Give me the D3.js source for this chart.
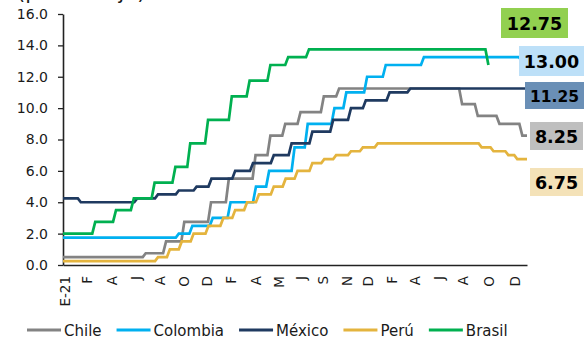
<!DOCTYPE html>
<html>
<head>
<meta charset="utf-8">
<script src="https://cdn.jsdelivr.net/npm/d3@7"></script>
<style>
  html, body { margin: 0; padding: 0; background: #fff; }
  svg { display: block; font-family: "DejaVu Sans", Verdana, sans-serif; }
</style>
</head>
<body>
<svg id="chart" width="584" height="343"></svg>
<script>
// Policy rates (%), given as [effective date, new rate] change points
const chile = [
  ["2021-01-01", 0.50], ["2021-07-15", 0.75], ["2021-09-01", 1.50], ["2021-10-14", 2.75],
  ["2021-12-16", 4.00], ["2022-01-27", 5.50], ["2022-03-31", 7.00], ["2022-05-05", 8.25],
  ["2022-06-09", 9.00], ["2022-07-15", 9.75], ["2022-09-08", 10.75], ["2022-10-14", 11.25],
  ["2023-07-31", 10.25], ["2023-09-06", 9.50], ["2023-10-27", 9.00], ["2023-12-20", 8.25]
];
const colombia = [
  ["2021-01-01", 1.75], ["2021-10-01", 2.00], ["2021-11-02", 2.50], ["2021-12-20", 3.00],
  ["2022-01-31", 4.00], ["2022-04-01", 5.00], ["2022-05-02", 6.00], ["2022-07-01", 7.50],
  ["2022-08-01", 9.00], ["2022-10-03", 10.00], ["2022-10-31", 11.00], ["2022-12-19", 12.00],
  ["2023-02-01", 12.75], ["2023-05-02", 13.25], ["2023-12-19", 13.00]
];
const mexico = [
  ["2021-01-01", 4.25], ["2021-02-12", 4.00], ["2021-06-25", 4.25], ["2021-08-13", 4.50],
  ["2021-10-01", 4.75], ["2021-11-12", 5.00], ["2021-12-17", 5.50], ["2022-02-11", 6.00],
  ["2022-03-25", 6.50], ["2022-05-13", 7.00], ["2022-06-24", 7.75], ["2022-08-12", 8.50],
  ["2022-09-30", 9.25], ["2022-11-11", 10.00], ["2022-12-16", 10.50], ["2023-02-10", 11.00],
  ["2023-03-31", 11.25]
];
const peru = [
  ["2021-01-01", 0.25], ["2021-08-13", 0.50], ["2021-09-10", 1.00], ["2021-10-08", 1.50],
  ["2021-11-05", 2.00], ["2021-12-10", 2.50], ["2022-01-14", 3.00], ["2022-02-11", 3.50],
  ["2022-03-11", 4.00], ["2022-04-08", 4.50], ["2022-05-13", 5.00], ["2022-06-10", 5.50],
  ["2022-07-08", 6.00], ["2022-08-12", 6.50], ["2022-09-09", 6.75], ["2022-10-07", 7.00],
  ["2022-11-11", 7.25], ["2022-12-09", 7.50], ["2023-01-13", 7.75], ["2023-09-15", 7.50],
  ["2023-10-13", 7.25], ["2023-11-17", 7.00], ["2023-12-08", 6.75]
];
const brasil = [
  ["2021-01-01", 2.00], ["2021-03-18", 2.75], ["2021-05-06", 3.50], ["2021-06-17", 4.25],
  ["2021-08-05", 5.25], ["2021-09-23", 6.25], ["2021-10-28", 7.75], ["2021-12-09", 9.25],
  ["2022-02-03", 10.75], ["2022-03-17", 11.75], ["2022-05-05", 12.75], ["2022-06-16", 13.25],
  ["2022-08-04", 13.75], ["2023-10-01", 12.75]
];

const seriesNames = ["Chile", "Colombia", "México", "Perú", "Brasil"];
const seriesData = [chile, colombia, mexico, peru, brasil];
const seriesEnd = ["2023-12-31", "2023-12-31", "2023-12-31", "2023-12-31", "2023-10-01"];
const seriesColors = ["#838383", "#00b0f0", "#1f3a60", "#e4b43e", "#00b050"];

const yTicks = [0, 2, 4, 6, 8, 10, 12, 14, 16];
const xTickDates = [
  "2021-01-05", "2021-02-26", "2021-04-26", "2021-06-21", "2021-08-17", "2021-10-12",
  "2021-12-06", "2022-02-01", "2022-04-01", "2022-05-25", "2022-07-15", "2022-09-06",
  "2022-11-01", "2022-12-20", "2023-02-14", "2023-04-10", "2023-06-05", "2023-08-01",
  "2023-10-01", "2023-12-01"
];
const xTickLabels = ["E-21", "F", "A", "J", "A", "O", "D", "F", "A", "M", "J", "S", "N", "D",
  "F", "A", "J", "A", "O", "D"];

const parse = d3.timeParse("%Y-%m-%d");
const svg = d3.select("#chart");

const x = d3.scaleTime()
  .domain([parse("2021-01-01"), parse("2023-12-31")])
  .range([63, 527]);
const y = d3.scaleLinear().domain([0, 16]).range([265, 14]);

// Subtitle (clipped by the top edge)
svg.append("text")
  .attr("x", 17).attr("y", -1)
  .attr("font-size", 21).attr("fill", "#1a1a1a")
  .text("(porcentaje)");

// Y axis
const yAxis = svg.append("g")
  .attr("transform", "translate(63,0)")
  .call(d3.axisLeft(y).tickValues(yTicks).tickFormat(d3.format(".1f"))
    .tickSize(5).tickSizeOuter(0).tickPadding(10));
yAxis.selectAll("text").attr("font-size", 14).attr("fill", "#1a1a1a")
  .attr("font-family", "DejaVu Sans, Verdana, sans-serif");
yAxis.selectAll("line").attr("stroke", "#222").attr("stroke-width", 1.3);
yAxis.select(".domain").attr("stroke", "#222").attr("stroke-width", 1.6);

// X axis
const xAxis = svg.append("g")
  .attr("transform", "translate(0,265)")
  .call(d3.axisBottom(x).tickValues(xTickDates.map(parse))
    .tickFormat((d, i) => xTickLabels[i]).tickSize(0).tickSizeOuter(0));
xAxis.select(".domain").attr("stroke", "#222").attr("stroke-width", 1.6);
xAxis.selectAll("text")
  .attr("font-size", 13.5).attr("fill", "#1a1a1a")
  .attr("font-family", "DejaVu Sans, Verdana, sans-serif")
  .attr("text-anchor", "end")
  .attr("transform", "rotate(-90)")
  .attr("x", -11).attr("y", 0).attr("dy", "0.35em");

// Step lines: each change takes one week to show up in the weekly series
const week = 7 * 24 * 3600 * 1000;
function stepPoints(changes, end) {
  const pts = [];
  changes.forEach((c, i) => {
    const d = parse(c[0]);
    if (i > 0) pts.push([new Date(d.getTime() - week), changes[i - 1][1]]);
    pts.push([d, c[1]]);
  });
  const e = parse(end);
  if (e > pts[pts.length - 1][0]) pts.push([e, changes[changes.length - 1][1]]);
  return pts;
}
const line = d3.line().x(d => x(d[0])).y(d => y(d[1]));

svg.append("g").selectAll("path")
  .data(seriesData)
  .join("path")
  .attr("d", (s, i) => line(stepPoints(s, seriesEnd[i])))
  .attr("fill", "none")
  .attr("stroke", (s, i) => seriesColors[i])
  .attr("stroke-width", 2.7);

// Latest-value tags
const tagLayout = [
  { s: 4, x: 501, y: 8,   w: 67, h: 30, base: 30,  fs: 17.5, fill: "#92d050" },
  { s: 1, x: 519, y: 46,  w: 65, h: 30, base: 68,  fs: 17.5, fill: "#bde0f8" },
  { s: 2, x: 525, y: 82,  w: 59, h: 27, base: 102, fs: 15.5, fill: "#6a8fb6" },
  { s: 0, x: 530, y: 122, w: 53, h: 28, base: 143, fs: 17.5, fill: "#bfbfbf" },
  { s: 3, x: 530, y: 168, w: 53, h: 28, base: 189, fs: 17.5, fill: "#f4e2b8" }
];
const tags = svg.append("g").selectAll("g").data(tagLayout).join("g");
tags.append("rect")
  .attr("x", d => d.x).attr("y", d => d.y)
  .attr("width", d => d.w).attr("height", d => d.h)
  .attr("fill", d => d.fill);
tags.append("text")
  .attr("x", d => d.x + d.w / 2).attr("y", d => d.base)
  .attr("text-anchor", "middle")
  .attr("font-weight", "bold").attr("font-size", d => d.fs)
  .attr("fill", "#000")
  .text(d => {
    const s = seriesData[d.s];
    return d3.format(".2f")(s[s.length - 1][1]);
  });

// Legend
const legend = svg.append("g");
let lx = 27;
seriesNames.forEach((name, i) => {
  legend.append("line")
    .attr("x1", lx).attr("x2", lx + 34).attr("y1", 330).attr("y2", 330)
    .attr("stroke", seriesColors[i]).attr("stroke-width", 3);
  const t = legend.append("text")
    .attr("x", lx + 37).attr("y", 336)
    .attr("font-size", 15).attr("fill", "#1a1a1a")
    .text(name);
  lx += 37 + t.node().getComputedTextLength() + 15;
});
</script>
</body>
</html>
